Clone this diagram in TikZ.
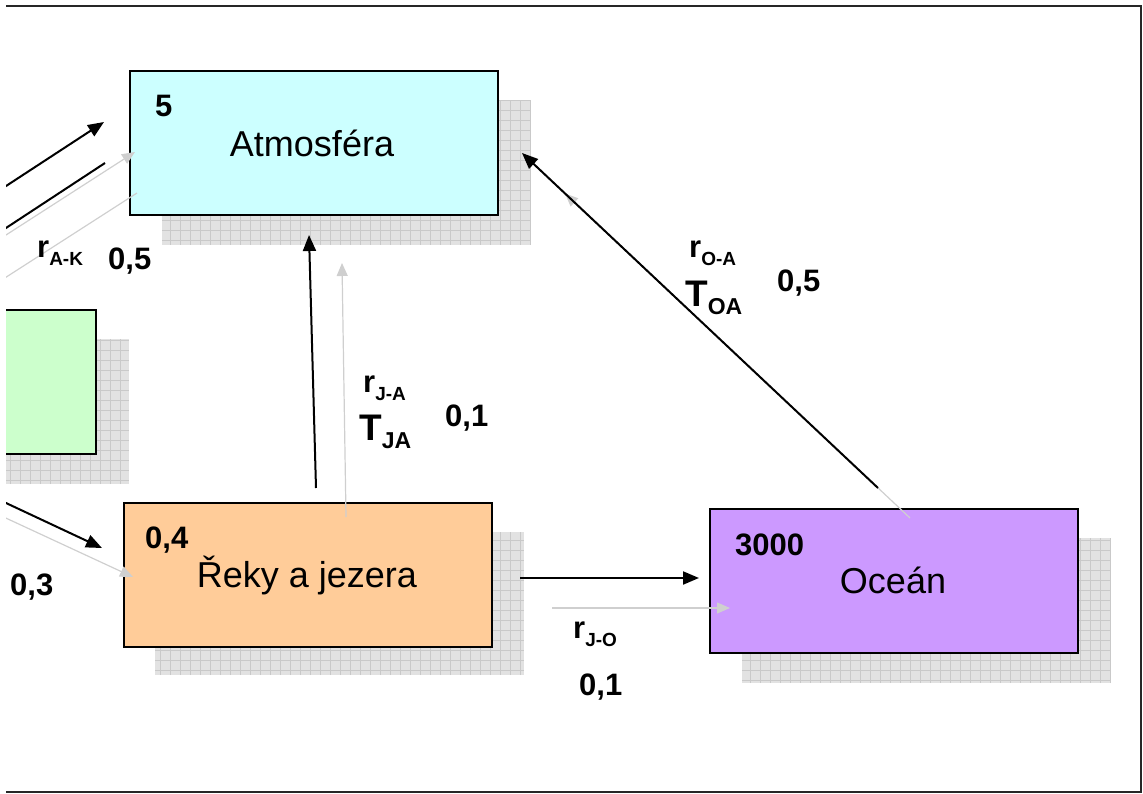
\documentclass[tikz,border=0pt]{standalone}
\usepackage{fontspec}
\setmainfont{Liberation Sans}
\usetikzlibrary{arrows.meta}
\definecolor{atmcol}{HTML}{CCFFFF}
\definecolor{soilcol}{HTML}{CCFFCC}
\definecolor{lakecol}{HTML}{FFCC99}
\definecolor{oceancol}{HTML}{CC99FF}
\definecolor{shfill}{HTML}{E2E2E2}
\definecolor{shgrid}{HTML}{C9C9C9}
\definecolor{ghost}{HTML}{CFCFCF}
\newcommand{\rlab}[1]{{\fontsize{31}{31}\selectfont\bfseries r}\raisebox{-8pt}{\fontsize{19}{19}\selectfont\bfseries #1}}
\newcommand{\tlab}[1]{{\fontsize{37}{37}\selectfont\bfseries T}\raisebox{-8pt}{\fontsize{23}{23}\selectfont\bfseries #1}}
\newcommand{\shadowrect}[2]{\fill[shfill] #1 rectangle #2; \draw[shgrid, line width=0.7pt] #1 grid[step=10pt] #2;}
\tikzset{
  box/.style={draw=black, line width=2pt, minimum width=368pt, minimum height=144pt, inner sep=0pt},
  boxtext/.style={font=\fontsize{36}{36}\selectfont, inner sep=0pt, anchor=base},
  numtext/.style={font=\fontsize{31}{31}\selectfont\bfseries, inner sep=0pt, anchor=base west},
  labtext/.style={inner sep=0pt, anchor=base west},
  flow/.style={draw=black, line width=2pt, -{Triangle[length=16pt,width=13pt]}},
  flowline/.style={draw=black, line width=2pt},
  ghostflow/.style={draw=ghost, line width=1.2pt, -{Triangle[length=13pt,width=11pt]}},
  ghostline/.style={draw=ghost, line width=1.2pt},
  frameline/.style={draw=black!85, line width=2pt}
}
\begin{document}
\begin{tikzpicture}[x=1pt, y=-1pt]
\useasboundingbox (0,0) rectangle (1143,794);
\begin{scope}
\clip (6,6) rectangle (1141,792);
% shadows
\shadowrect{(162,100)}{(530,245)}
\shadowrect{(-240,339)}{(129,484)}
\shadowrect{(155,532)}{(524,675)}
\shadowrect{(742,538)}{(1110,683)}
% boxes
\node[box, fill=atmcol] (atm) at (313.5,143.5) {};
\node[box, fill=soilcol] (soil) at (-88,382) {};
\node[box, fill=lakecol] (lake) at (307.5,574.5) {};
\node[box, fill=oceancol] (ocean) at (894,581) {};
% box texts
\node[boxtext] (atmname) at (312,157) {Atmosféra};
\node[boxtext] (lakename) at (307,587) {Řeky a jezera};
\node[boxtext] (oceanname) at (893,593) {Oceán};
\node[numtext] (atmval) at (155,117) {5};
\node[numtext] (lakeval) at (145,548) {0,4};
\node[numtext] (oceanval) at (735,555) {3000};
% coordinates of connector ends
\coordinate (a1s) at (-10,196.5);
\coordinate (a1e) at (104,122);
\coordinate (a2s) at (-10,238.5);
\coordinate (a2e) at (105,163);
\coordinate (g1s) at (-10,245.3);
\coordinate (g1e) at (135,152);
\coordinate (g2s) at (-10,287.5);
\coordinate (g2e) at (137,193);
\coordinate (b1s) at (-10,495.5);
\coordinate (b1e) at (102,548);
\coordinate (g3s) at (-10,510.7);
\coordinate (g3e) at (133,577);
\coordinate (c1s) at (316,488);
\coordinate (c1e) at (309,235);
\coordinate (g4s) at (346,517);
\coordinate (g4e) at (342,263);
\coordinate (d1s) at (520,578);
\coordinate (d1e) at (699,578);
\coordinate (g5s) at (552,608);
\coordinate (g5e) at (730,608);
\coordinate (e1s) at (878,488);
\coordinate (e1e) at (522,153);
\coordinate (g6s) at (910,518);
\coordinate (g6e) at (565,193.5);
% ghost (shadow) connectors
\draw[ghostflow] (g1s) -- (g1e);
\draw[ghostline] (g2s) -- (g2e);
\draw[ghostflow] (g3s) -- (g3e);
\draw[ghostflow] (g4s) -- (g4e);
\draw[ghostflow] (g5s) -- (g5e);
\draw[ghostflow] (g6s) -- (g6e);
% black connectors
\draw[flow] (a1s) -- (a1e);
\draw[flowline] (a2s) -- (a2e);
\draw[flow] (b1s) -- (b1e);
\draw[flow] (c1s) -- (c1e);
\draw[flow] (d1s) -- (d1e);
\draw[flow] (e1s) -- (e1e);
\end{scope}
% labels
\node[labtext] (rak) at (37,258) {\rlab{A-K}};
\node[numtext] (vak) at (108,270) {0,5};
\node[numtext] (v03) at (10,595) {0,3};
\node[labtext] (rja) at (363,392) {\rlab{J-A}};
\node[labtext] (tja) at (359,440) {\tlab{JA}};
\node[numtext] (vja) at (445,426) {0,1};
\node[labtext] (rjo) at (573,638) {\rlab{J-O}};
\node[numtext] (vjo) at (579,695) {0,1};
\node[labtext] (roa) at (689,258) {\rlab{O-A}};
\node[labtext] (toa) at (685,307) {\tlab{OA}};
\node[numtext] (voa) at (777,292) {0,5};
% frame
\draw[frameline] (6,6) -- (1141,6) -- (1141,792) -- (6,792);
\end{tikzpicture}
\end{document}
